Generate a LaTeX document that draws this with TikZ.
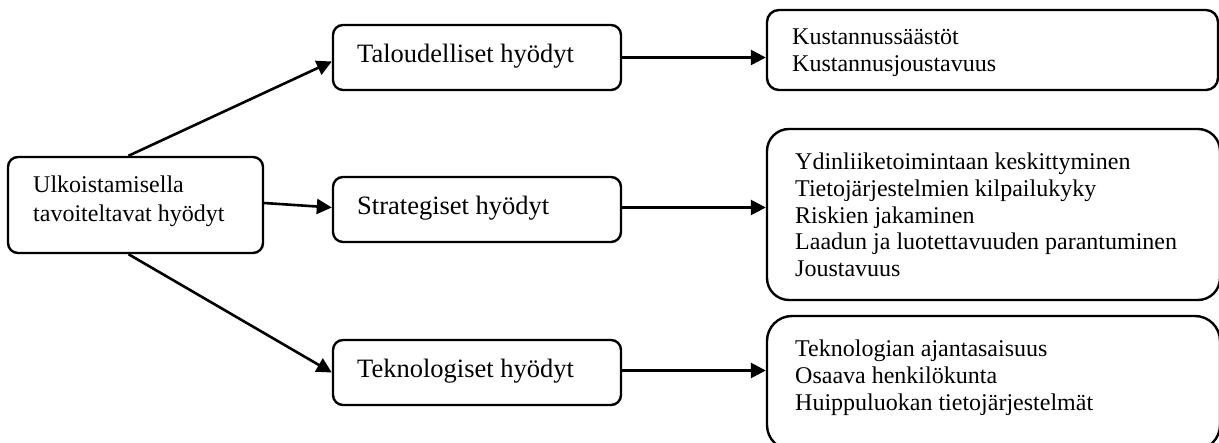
\documentclass[tikz,border=0pt]{standalone}
\usepackage{fontspec}
\setmainfont{Liberation Serif}
\usetikzlibrary{arrows.meta}
\begin{document}
\begin{tikzpicture}[x=1pt,y=-1pt,
  box/.style={draw, line width=2.4pt, rounded corners=#1, inner sep=0pt},
  box/.default=10pt,
  conn/.style={line width=2.6pt, -{Triangle[length=15pt,width=15pt]}},
  bigtext/.style={font=\fontsize{26.5}{29}\selectfont, inner sep=0pt, anchor=base west},
  smalltext/.style={font=\fontsize{24}{27}\selectfont, inner sep=0pt, anchor=base west},
]
\useasboundingbox (0,0) rectangle (1219,443);
\clip (0,0) rectangle (1219,443);

% boxes
\node[box, minimum width=255pt, minimum height=96pt] (main) at (135.5,205) {};
\node[box, minimum width=288pt, minimum height=65pt] (talo) at (477,57.5) {};
\node[box, minimum width=288pt, minimum height=65pt] (strat) at (477,209.5) {};
\node[box, minimum width=288pt, minimum height=65pt] (tekno) at (477,372.5) {};
\node[box=12pt, minimum width=451pt, minimum height=80pt] (r1) at (992.5,50) {};
\node[box=22pt, minimum width=453pt, minimum height=171pt] (r2) at (993.5,214.5) {};
\node[box=25pt, minimum width=453pt, minimum height=134pt] (r3) at (993.5,383) {};

% texts
\node[smalltext] (m1) at (33,193) {Ulkoistamisella};
\node[smalltext] (m2) at (33,222) {tavoiteltavat hyödyt};

\node[bigtext] (tt) at (357,63) {Taloudelliset hyödyt};
\node[bigtext] (st) at (357,215) {Strategiset hyödyt};
\node[bigtext] (kt) at (357,378) {Teknologiset hyödyt};

\node[smalltext] (a1) at (792,45) {Kustannussäästöt};
\node[smalltext] (a2) at (792,72) {Kustannusjoustavuus};

\node[smalltext] (b1) at (795,170) {Ydinliiketoimintaan keskittyminen};
\node[smalltext] (b2) at (795,197) {Tietojärjestelmien kilpailukyky};
\node[smalltext] (b3) at (795,223.5) {Riskien jakaminen};
\node[smalltext] (b4) at (795,250) {Laadun ja luotettavuuden parantuminen};
\node[smalltext] (b5) at (795,277) {Joustavuus};

\node[smalltext] (c1) at (795,357) {Teknologian ajantasaisuus};
\node[smalltext] (c2) at (795,384) {Osaava henkilökunta};
\node[smalltext] (c3) at (795,411) {Huippuluokan tietojärjestelmät};

% connectors
\draw[conn] ([xshift=-7pt]main.north) -- ([yshift=-4pt]talo.west);
\draw[conn] ([yshift=2pt]main.east) -- ([yshift=2pt]strat.west);
\draw[conn] ([xshift=-7pt]main.south) -- (tekno.west);
\draw[conn] (talo.east) -- (talo.east -| r1.west);
\draw[conn] ([yshift=2pt]strat.east) -- ([yshift=2pt]strat.east -| r2.west);
\draw[conn] ([yshift=2pt]tekno.east) -- ([yshift=2pt]tekno.east -| r3.west);
\end{tikzpicture}
\end{document}
